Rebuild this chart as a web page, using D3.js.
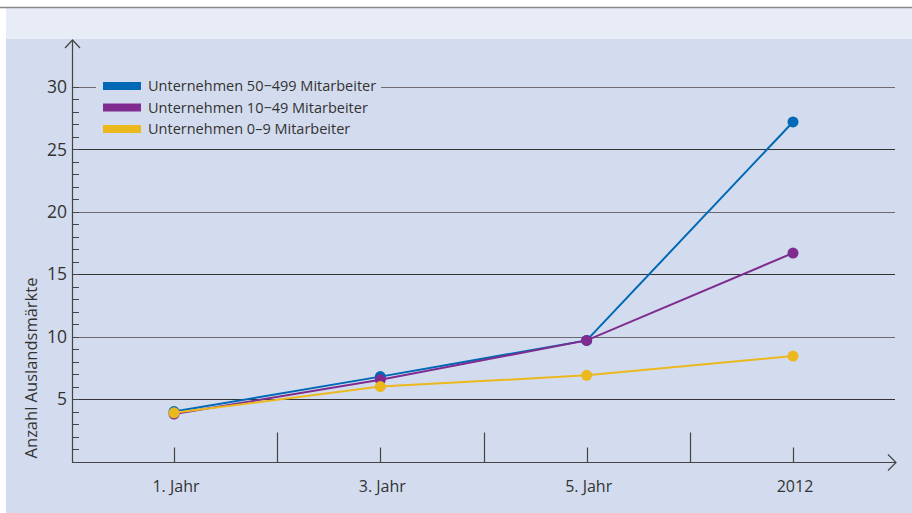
<!DOCTYPE html>
<html>
<head>
<meta charset="utf-8">
<script src="https://cdn.jsdelivr.net/npm/d3@7"></script>
<style>
  body { margin: 0; background: #fff; }
  svg { display: block; font-family: "Open Sans", sans-serif; }
</style>
</head>
<body>
<script>
// categories and values
const categories = ["1. Jahr", "3. Jahr", "5. Jahr", "2012"];
const big = [4.0, 6.8, 9.7, 27.2];     // 50-499
const mid = [3.8, 6.55, 9.7, 16.7];    // 10-49
const small = [3.9, 6.0, 6.9, 8.45];   // 0-9
const seriesNames = ["Unternehmen 50\u2212499 Mitarbeiter", "Unternehmen 10\u221249 Mitarbeiter", "Unternehmen 0\u20139 Mitarbeiter"];
const colors = ["#0068b4", "#7f2b8f", "#ebb81e"];
const yTicks = [5, 10, 15, 20, 25, 30];

var width = 912, height = 513;
var svg = d3.select("body").append("svg")
    .attr("width", width)
    .attr("height", height);

// backgrounds
svg.append("rect").attr("x", 6).attr("y", 8).attr("width", width - 6).attr("height", 31).attr("fill", "#e8ecf6");
svg.append("rect").attr("x", 6).attr("y", 39).attr("width", width - 6).attr("height", height - 39).attr("fill", "#d3dcee");
svg.append("line").attr("x1", 0).attr("x2", width).attr("y1", 7.5).attr("y2", 7.5).attr("stroke", "#888").attr("stroke-width", 1.5);

var x0 = 72, xEnd = 896;
var x = d3.scalePoint().domain(categories).range([174, 793]);
var step = x.step();
var y = d3.scaleLinear().domain([0, 30]).range([461.5, 87]);

// gridlines
yTicks.forEach(function(t) {
  var yy = Math.round(y(t)) + 0.5;
  var c = (t % 10 === 0) ? "#6a6a70" : "#333";
  if (t === 30) {
    svg.append("line").attr("x1", x0).attr("x2", 96).attr("y1", yy).attr("y2", yy).attr("stroke", c);
    svg.append("line").attr("x1", 381).attr("x2", xEnd - 1).attr("y1", yy).attr("y2", yy).attr("stroke", c);
  } else {
    svg.append("line").attr("x1", x0).attr("x2", xEnd - 1).attr("y1", yy).attr("y2", yy).attr("stroke", c);
  }
});

// y minor ticks
d3.range(1, 31).forEach(function(t) {
  var yy = Math.round(y(t)) + 0.5;
  svg.append("line").attr("x1", x0).attr("x2", x0 + 7).attr("y1", yy).attr("y2", yy).attr("stroke", "#444");
});

// y tick labels
svg.selectAll(".ylab").data(yTicks).enter().append("text")
    .attr("x", x0 - 5).attr("y", function(d) { return y(d); })
    .attr("dy", "0.35em").attr("text-anchor", "end")
    .attr("font-size", 17.5).attr("fill", "#333")
    .text(function(d) { return d; });

// axes lines with arrows
var axisColor = "#444";
var yAxisY = Math.round(y(0)) + 0.5;
svg.append("line").attr("x1", x0 + 0.5).attr("x2", x0 + 0.5).attr("y1", 40).attr("y2", yAxisY).attr("stroke", axisColor).attr("stroke-width", 1.2);
svg.append("path").attr("d", "M" + (x0 - 7) + ",48 L" + (x0 + 0.5) + ",40 L" + (x0 + 8) + ",48")
    .attr("fill", "none").attr("stroke", axisColor).attr("stroke-width", 1.2);
svg.append("line").attr("x1", x0).attr("x2", xEnd).attr("y1", yAxisY).attr("y2", yAxisY).attr("stroke", axisColor).attr("stroke-width", 1.2);
svg.append("path").attr("d", "M" + (xEnd - 8) + "," + (yAxisY - 8) + " L" + xEnd + "," + yAxisY + " L" + (xEnd - 8) + "," + (yAxisY + 8))
    .attr("fill", "none").attr("stroke", axisColor).attr("stroke-width", 1.2);

// x ticks: short at categories, tall in between
categories.forEach(function(c, i) {
  var xx = Math.round(x(c)) + 0.5;
  svg.append("line").attr("x1", xx).attr("x2", xx).attr("y1", yAxisY - 15).attr("y2", yAxisY).attr("stroke", axisColor).attr("stroke-width", 1.2);
  if (i < categories.length - 1) {
    var xm = Math.round(x(c) + step / 2) + 0.5;
    svg.append("line").attr("x1", xm).attr("x2", xm).attr("y1", yAxisY - 30).attr("y2", yAxisY).attr("stroke", axisColor).attr("stroke-width", 1.2);
  }
});

svg.selectAll(".xlab").data(categories).enter().append("text")
    .attr("x", function(d) { return x(d) + 2; }).attr("y", 492)
    .attr("text-anchor", "middle").attr("font-size", 16).attr("fill", "#333")
    .text(function(d) { return d; });

// y axis title
svg.append("text")
    .attr("transform", "translate(37,368) rotate(-90)")
    .attr("text-anchor", "middle").attr("font-size", 16.5).attr("fill", "#333")
    .text("Anzahl Auslandsm\u00e4rkte");

// lines and dots
var data = [big, mid, small];
var line = d3.line()
    .x(function(d, i) { return x(categories[i]); })
    .y(function(d) { return y(d); });

data.forEach(function(s, k) {
  svg.append("path").datum(s).attr("d", line)
      .attr("fill", "none").attr("stroke", colors[k]).attr("stroke-width", 2);
  svg.selectAll(".dot" + k).data(s).enter().append("circle")
      .attr("cx", function(d, i) { return x(categories[i]); })
      .attr("cy", function(d) { return y(d); })
      .attr("r", 5.5).attr("fill", colors[k]);
});

// legend
seriesNames.forEach(function(n, i) {
  var ly = 86 + i * 21.5;
  svg.append("rect").attr("x", 103).attr("y", ly - 4).attr("width", 38).attr("height", 8).attr("fill", colors[i]);
  svg.append("text").attr("x", 148).attr("y", ly).attr("dy", "0.35em")
      .attr("font-size", 14.5).attr("fill", "#333").text(n);
});
</script>
</body>
</html>
